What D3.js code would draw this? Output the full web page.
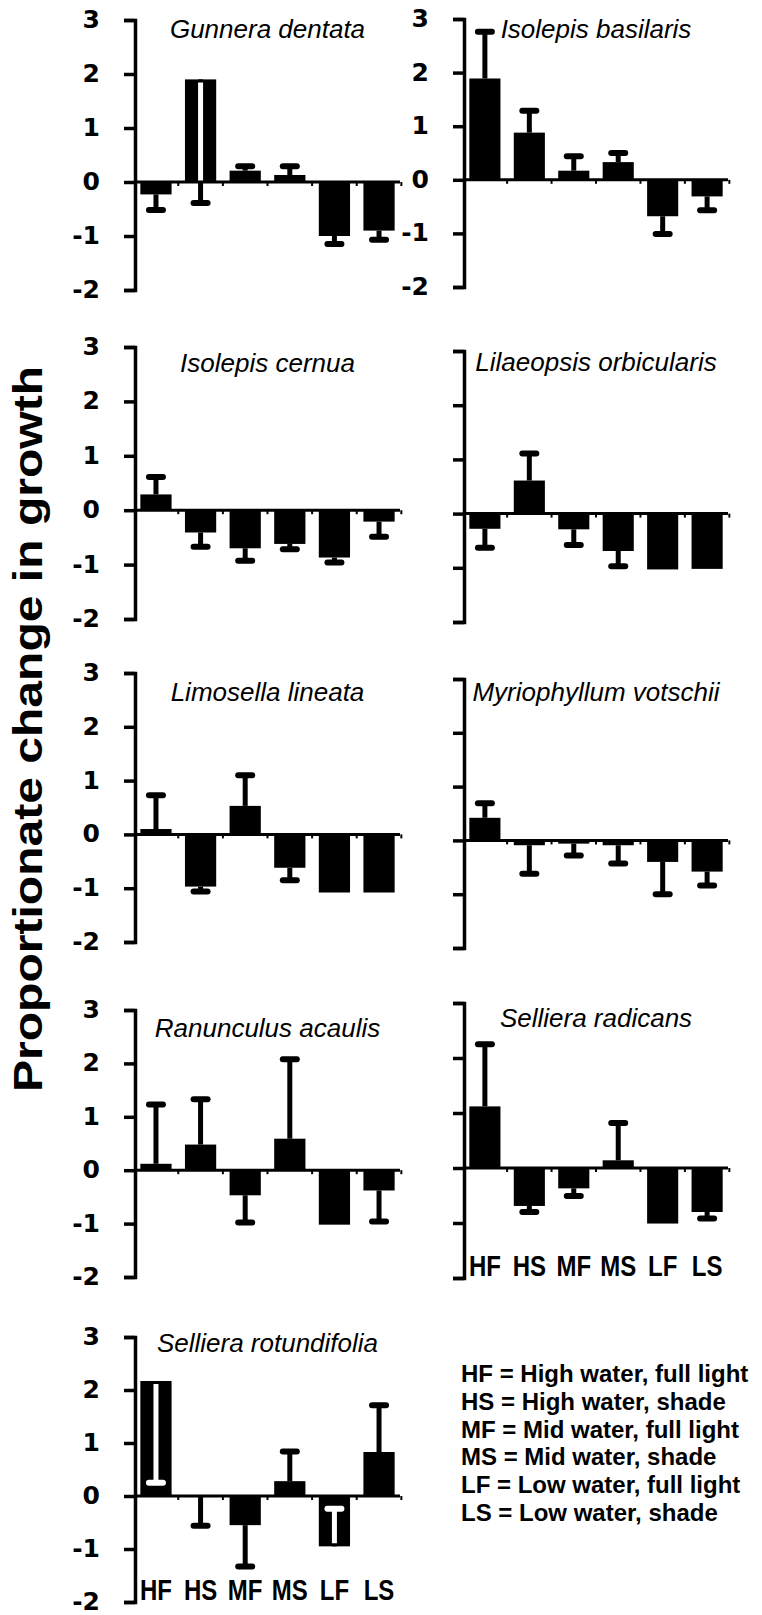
<!DOCTYPE html>
<html>
<head>
<meta charset="utf-8">
<script src="https://cdn.jsdelivr.net/npm/d3@7"></script>
<style>
  body { margin: 0; background: #fff; }
  svg { display: block; }
</style>
</head>
<body>
<svg id="chart" width="762" height="1615"></svg>
<script>
// data
var species = ["Gunnera dentata", "Isolepis basilaris", "Isolepis cernua", "Lilaeopsis orbicularis",
    "Limosella lineata", "Myriophyllum votschii", "Ranunculus acaulis", "Selliera radicans",
    "Selliera rotundifolia"];
var categories = ["HF", "HS", "MF", "MS", "LF", "LS"];
var yTicks = [3, 2, 1, 0, -1, -2];

// mean proportionate change per treatment
var means = [
    [-0.23, 1.90, 0.21, 0.13, -1.00, -0.90],
    [1.89, 0.88, 0.17, 0.33, -0.68, -0.31],
    [0.29, -0.41, -0.70, -0.62, -0.87, -0.21],
    [-0.28, 0.61, -0.29, -0.69, -1.03, -1.02],
    [0.10, -0.97, 0.53, -0.62, -1.08, -1.08],
    [0.42, -0.09, -0.06, -0.09, -0.40, -0.58],
    [0.12, 0.48, -0.47, 0.59, -1.02, -0.38],
    [1.12, -0.69, -0.37, 0.14, -1.01, -0.80],
    [2.17, -0.02, -0.55, 0.28, -0.95, 0.83]
];
// value where the error bar cap sits
var errEnds = [
    [-0.52, -0.39, 0.29, 0.29, -1.15, -1.07],
    [2.76, 1.29, 0.44, 0.50, -1.01, -0.57],
    [0.61, -0.67, -0.93, -0.72, -0.96, -0.49],
    [-0.63, 1.11, -0.58, -0.97, -1.03, -1.02],
    [0.73, -1.06, 1.10, -0.85, -1.08, -1.08],
    [0.69, -0.62, -0.28, -0.43, -1.00, -0.84],
    [1.23, 1.33, -0.98, 2.08, -1.02, -0.96],
    [2.25, -0.80, -0.51, 0.82, -1.01, -0.92],
    [0.25, -0.56, -1.33, 0.84, -0.24, 1.71]
];
var legendLines = ["HF = High water, full light", "HS = High water, shade", "MF = Mid water, full light",
    "MS = Mid water, shade", "LF = Low water, full light", "LS = Low water, shade"];
var yTitle = "Proportionate change in growth";

// layout
var colX = [[135, 400], [464, 728]];
var panelY = [[20, 290], [19, 287], [347, 619], [351, 622], [673, 942], [679, 948],
    [1010, 1277], [1003, 1278], [1337, 1602]];
var titleDy = [18, 19, 25, 20, 28, 22, 27, 24, 15];

var svg = d3.select("#chart");
var defs = svg.append("defs");

species.forEach(function(name, i) {
    var col = i % 2;
    var x0 = colX[col][0], x1 = colX[col][1];
    var yt = panelY[i][0], yb = panelY[i][1];

    var y = d3.scaleLinear().domain([-2, 3]).range([yb, yt]);
    var x = d3.scaleBand().domain(categories).range([x0, x1])
        .paddingInner(0.3).paddingOuter(0.12);
    var bw = x.bandwidth();

    var rows = categories.map(function(c, j) {
        return { cat: c, m: means[i][j], e: errEnds[i][j], id: "p" + i + "b" + j };
    });
    var withErr = rows.filter(function(d) { return Math.abs(d.e - d.m) > 0.02; });

    var g = svg.append("g");

    // y axis, bracket shaped
    var ga = g.append("g")
        .attr("transform", "translate(" + x0 + ",0)")
        .call(d3.axisLeft(y).tickValues(yTicks).tickSize(11).tickPadding(24)
            .tickFormat(function(d) { return String(d); }));
    ga.select(".domain").attr("stroke-width", 3.5).attr("stroke-linejoin", "miter");
    ga.selectAll(".tick line").attr("stroke-width", 3.5);
    if (col === 0 || i === 1) {
        ga.selectAll(".tick text")
            .attr("fill", "#000")
            .attr("dy", "0.3em")
            .style("font-family", "'DejaVu Sans', sans-serif")
            .style("font-weight", "bold")
            .style("font-size", "25px");
    } else {
        ga.selectAll(".tick text").remove();
    }

    // bars
    g.append("g").selectAll("rect").data(rows).enter().append("rect")
        .attr("x", function(d) { return x(d.cat); })
        .attr("y", function(d) { return y(Math.max(0, d.m)); })
        .attr("width", bw)
        .attr("height", function(d) { return Math.abs(y(d.m) - y(0)); })
        .attr("fill", "#000");

    // inside of each bar (inset at its outer end) for the white part of error bars
    withErr.forEach(function(d) {
        var h = Math.max(0, Math.abs(y(d.m) - y(0)) - 3);
        var top = d.m >= 0 ? y(d.m) + 3 : y(0);
        defs.append("clipPath").attr("id", d.id).append("rect")
            .attr("x", x(d.cat) + 2).attr("y", top)
            .attr("width", bw - 4).attr("height", h);
    });

    function drawErr(sel, color) {
        sel.append("line")
            .attr("x1", function(d) { return x(d.cat) + bw / 2; })
            .attr("x2", function(d) { return x(d.cat) + bw / 2; })
            .attr("y1", function(d) { return y(d.m); })
            .attr("y2", function(d) { return y(d.e); })
            .attr("stroke", color).attr("stroke-width", 5);
        sel.append("line")
            .attr("x1", function(d) { return x(d.cat) + bw / 2 - 7; })
            .attr("x2", function(d) { return x(d.cat) + bw / 2 + 7; })
            .attr("y1", function(d) { return y(d.e); })
            .attr("y2", function(d) { return y(d.e); })
            .attr("stroke", color).attr("stroke-width", 6).attr("stroke-linecap", "round");
    }

    drawErr(g.append("g").selectAll("g").data(withErr).enter().append("g"), "#000");
    drawErr(g.append("g").selectAll("g").data(withErr).enter().append("g")
        .attr("clip-path", function(d) { return "url(#" + d.id + ")"; }), "#fff");

    // x axis at zero
    g.append("line")
        .attr("x1", x0).attr("x2", x1)
        .attr("y1", y(0)).attr("y2", y(0))
        .attr("stroke", "#000").attr("stroke-width", 3);
    g.append("g").selectAll("line").data(categories).enter().append("line")
        .attr("x1", function(c) { return x(c) + x.step() - (x.step() - bw) / 2; })
        .attr("x2", function(c) { return x(c) + x.step() - (x.step() - bw) / 2; })
        .attr("y1", y(0)).attr("y2", y(0) + 4)
        .attr("stroke", "#000").attr("stroke-width", 2);

    // species name
    g.append("text")
        .attr("x", (x0 + x1) / 2)
        .attr("y", yt + titleDy[i])
        .attr("text-anchor", "middle")
        .style("font-family", "'Liberation Sans', Arial, sans-serif")
        .style("font-style", "italic")
        .style("font-size", "26px")
        .text(name);

    // treatment labels under the two bottom panels (narrowed bold)
    if (i === 7 || i === 8) {
        g.append("g").selectAll("text").data(categories).enter().append("text")
            .attr("transform", function(c) {
                return "translate(" + (x(c) + bw / 2) + "," + (y(-2) - 2) + ") scale(0.8,1)";
            })
            .attr("text-anchor", "middle")
            .style("font-family", "'Liberation Sans', Arial, sans-serif")
            .style("font-weight", "bold")
            .style("font-size", "30px")
            .text(function(c) { return c; });
    }
});

// legend
svg.append("g").selectAll("text").data(legendLines).enter().append("text")
    .attr("x", 461)
    .attr("y", function(d, k) { return 1382 + k * 27.8; })
    .style("font-family", "'Liberation Sans', Arial, sans-serif")
    .style("font-weight", "bold")
    .style("font-size", "24px")
    .text(function(d) { return d; });

// shared y title
svg.append("text")
    .attr("transform", "translate(42,729) rotate(-90)")
    .attr("text-anchor", "middle")
    .attr("textLength", 726)
    .attr("lengthAdjust", "spacingAndGlyphs")
    .style("font-family", "'Liberation Sans', Arial, sans-serif")
    .style("font-weight", "bold")
    .style("font-size", "40px")
    .text(yTitle);
</script>
</body>
</html>
